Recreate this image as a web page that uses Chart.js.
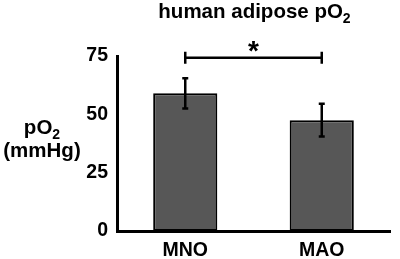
<!DOCTYPE html>
<html>
<head>
<meta charset="utf-8">
<script src="https://cdn.jsdelivr.net/npm/chart.js@4"></script>
<style>
  html, body { margin: 0; padding: 0; background: #fff; }
  #wrap { width: 400px; height: 259px; }
</style>
</head>
<body>
<div id="wrap"><canvas id="chart"></canvas></div>
<script>
const categories = ['MNO', 'MAO'];
const meanPO2 = [59, 47.5];
const errPO2 = [6.5, 7];
const yTicks = [0, 25, 50, 75];
const sigPair = [0, 1];
const sigLevel = 74.3;
const sigLabel = '*';
const titleText = ['human adipose pO', '2'];
const yTitleText = [['pO', '2'], ['(mmHg)', '']];

const FONT = '"Liberation Sans", Arial, sans-serif';

// text with a subscript part, centred on cx
function drawSub(ctx, parts, cx, baseY, size) {
  ctx.font = 'bold ' + size + 'px ' + FONT;
  const w1 = ctx.measureText(parts[0]).width;
  ctx.font = 'bold ' + Math.round(size * 0.68) + 'px ' + FONT;
  const w2 = parts[1] ? ctx.measureText(parts[1]).width : 0;
  const left = cx - (w1 + w2) / 2;
  ctx.textAlign = 'left';
  ctx.textBaseline = 'alphabetic';
  ctx.font = 'bold ' + size + 'px ' + FONT;
  ctx.fillText(parts[0], left, baseY);
  if (parts[1]) {
    ctx.font = 'bold ' + Math.round(size * 0.68) + 'px ' + FONT;
    ctx.fillText(parts[1], left + w1, baseY + size * 0.22);
  }
}

const decorations = {
  id: 'decorations',
  afterDatasetsDraw(chart) {
    const { ctx, chartArea, scales: { x, y } } = chart;
    ctx.save();
    ctx.strokeStyle = '#000';
    ctx.fillStyle = '#000';
    ctx.lineWidth = 2.5;

    // error bars
    meanPO2.forEach((m, i) => {
      const cx = x.getPixelForValue(i);
      const top = y.getPixelForValue(m + errPO2[i]);
      const bot = y.getPixelForValue(m - errPO2[i]);
      ctx.beginPath();
      ctx.moveTo(cx, top); ctx.lineTo(cx, bot);
      ctx.moveTo(cx - 3, top); ctx.lineTo(cx + 3, top);
      ctx.moveTo(cx - 3, bot); ctx.lineTo(cx + 3, bot);
      ctx.stroke();
    });

    // significance bracket
    const x1 = x.getPixelForValue(sigPair[0]);
    const x2 = x.getPixelForValue(sigPair[1]);
    const by = y.getPixelForValue(sigLevel);
    ctx.beginPath();
    ctx.moveTo(x1, by); ctx.lineTo(x2, by);
    ctx.moveTo(x1, by - 6); ctx.lineTo(x1, by + 6);
    ctx.moveTo(x2, by - 6); ctx.lineTo(x2, by + 6);
    ctx.stroke();

    ctx.font = 'bold 28px ' + FONT;
    const m = ctx.measureText(sigLabel);
    ctx.textAlign = 'center';
    ctx.textBaseline = 'alphabetic';
    const cy = by - 11;
    ctx.fillText(sigLabel, (x1 + x2) / 2, cy + (m.actualBoundingBoxAscent - m.actualBoundingBoxDescent) / 2);

    // title
    drawSub(ctx, titleText, (chartArea.left + chartArea.right) / 2 + 1, 18, 20.5);

    // y axis title, horizontal
    drawSub(ctx, yTitleText[0], 42, 134, 20.5);
    drawSub(ctx, yTitleText[1], 42, 157, 20.5);
    ctx.restore();
  }
};

new Chart(document.getElementById('chart').getContext('2d'), {
  type: 'bar',
  data: {
    labels: categories,
    datasets: [{
      label: 'pO2',
      data: meanPO2,
      backgroundColor: '#575757',
      borderColor: '#000',
      borderWidth: 2,
      borderSkipped: false,
      categoryPercentage: 1,
      barPercentage: 0.47
    }]
  },
  options: {
    responsive: true,
    maintainAspectRatio: false,
    animation: false,
    devicePixelRatio: 1,
    layout: { padding: { top: 56, right: 10, left: 0, bottom: 0 } },
    plugins: { legend: { display: false }, title: { display: false }, tooltip: { enabled: false } },
    scales: {
      x: {
        grid: { display: false, drawTicks: false },
        border: { display: true, color: '#000', width: 3 },
        ticks: { color: '#000', padding: 8, font: { family: FONT, size: 19.5, weight: 'bold' } },
        afterFit: s => { s.height = 28; }
      },
      y: {
        min: 0,
        max: 75,
        afterBuildTicks: s => { s.ticks = yTicks.map(v => ({ value: v })); },
        grid: { display: false, drawTicks: false },
        border: { display: true, color: '#000', width: 3 },
        ticks: { color: '#000', padding: 9, font: { family: FONT, size: 19.5, weight: 'bold' } },
        afterFit: s => { s.width = 117; }
      }
    }
  },
  plugins: [decorations]
});
</script>
</body>
</html>
